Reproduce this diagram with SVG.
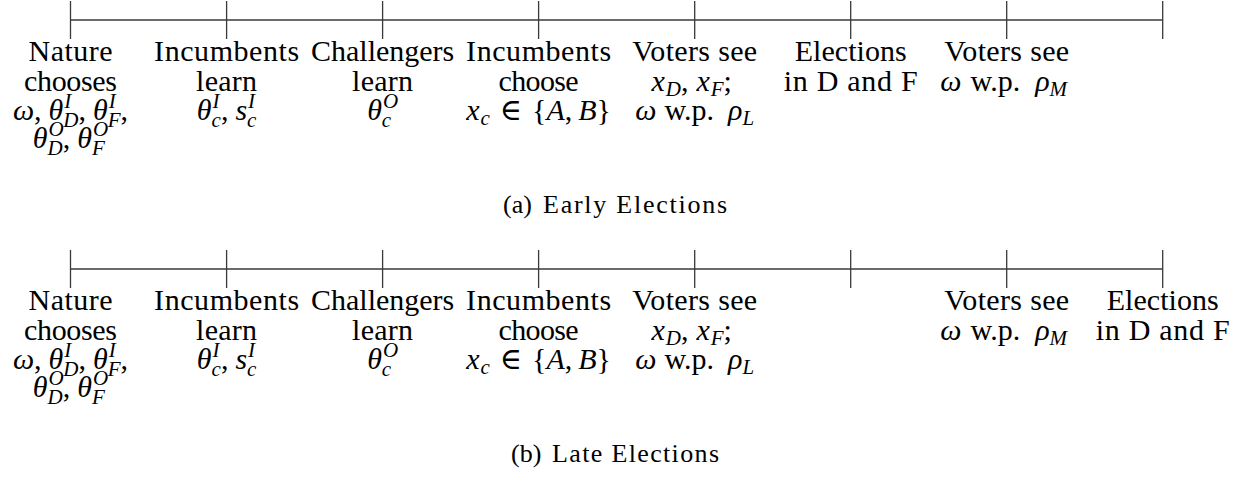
<svg xmlns="http://www.w3.org/2000/svg" width="1245" height="477" viewBox="0 0 1245 477">
<style>
.t{font-family:"Liberation Serif","DejaVu Serif",serif;font-size:30px;fill:#000;text-anchor:middle}
.m{font-style:italic}
.u{font-style:normal}
.s{font-size:21px}
.cap{font-size:26px;text-anchor:start}
.ax{stroke:#3a3a3a;stroke-width:1.3;fill:none}
</style>
<rect width="1245" height="477" fill="#fff"/>
<g id="connectors">
  <g id="timeline-a" class="ax">
    <line x1="70.5" y1="20" x2="1162.7" y2="20"/>
    <path d="M70.5 1V39M226.6 1V39M382.6 1V39M538.6 1V39M694.7 1V39M850.7 1V39M1006.7 1V39M1162.7 1V39"/>
  </g>
  <g id="timeline-b" class="ax">
    <line x1="70.5" y1="269" x2="1162.7" y2="269"/>
    <path d="M70.5 250V288M226.6 250V288M382.6 250V288M538.6 250V288M694.7 250V288M850.7 250V288M1006.7 250V288M1162.7 250V288"/>
  </g>
</g>

<!-- Panel (a) -->
<g id="a-nature" transform="translate(70.5,0)">
  <text class="t" y="61" textLength="84">Nature</text>
  <text class="t" y="91" textLength="93">chooses</text>
  <text class="t m" y="120">ω<tspan class="u">,</tspan><tspan dx="7">θ</tspan><tspan class="s" dx="1" dy="-12">I</tspan><tspan class="s" dx="-8" dy="19">D</tspan><tspan class="u" dy="-7">,</tspan><tspan dx="7">θ</tspan><tspan class="s" dx="1" dy="-12">I</tspan><tspan class="s" dx="-8" dy="19">F</tspan><tspan class="u" dy="-7">,</tspan></text>
  <text class="t m" y="148">θ<tspan class="s" dx="1" dy="-12">O</tspan><tspan class="s" dx="-16.2" dy="19">D</tspan><tspan class="u" dy="-7">,</tspan><tspan dx="7">θ</tspan><tspan class="s" dx="1" dy="-12">O</tspan><tspan class="s" dx="-16.2" dy="19">F</tspan></text>
</g>
<g id="a-inc-learn" transform="translate(226.6,0)">
  <text class="t" y="61" textLength="145">Incumbents</text>
  <text class="t" y="91" textLength="61">learn</text>
  <text class="t m" y="120">θ<tspan class="s" dx="1" dy="-12">I</tspan><tspan class="s" dx="-8" dy="19">c</tspan><tspan class="u" dy="-7">,</tspan><tspan dx="7">s</tspan><tspan class="s" dx="1" dy="-12">I</tspan><tspan class="s" dx="-8" dy="19">c</tspan></text>
</g>
<g id="a-chal-learn" transform="translate(382.6,0)">
  <text class="t" y="61" textLength="143">Challengers</text>
  <text class="t" y="91" textLength="61">learn</text>
  <text class="t m" y="120">θ<tspan class="s" dx="1" dy="-12">O</tspan><tspan class="s" dx="-16.2" dy="19">c</tspan></text>
</g>
<g id="a-inc-choose" transform="translate(538.6,0)">
  <text class="t" y="61" textLength="145">Incumbents</text>
  <text class="t" y="91" textLength="80">choose</text>
  <text class="t m" y="120">x<tspan class="s" dx="1" dy="5">c</tspan><tspan class="u" dx="10" dy="-5">∈</tspan><tspan class="u" dx="10">{</tspan>A<tspan class="u">,</tspan><tspan dx="6">B</tspan><tspan class="u">}</tspan></text>
</g>
<g id="a-voters-l" transform="translate(694.7,0)">
  <text class="t" y="61" textLength="125">Voters see</text>
  <text class="t m" x="-3" y="91">x<tspan class="s" dx="1" dy="5">D</tspan><tspan class="u" dy="-5">,</tspan><tspan dx="8">x</tspan><tspan class="s" dx="1" dy="5">F</tspan><tspan class="u" dy="-5">;</tspan></text>
  <text class="t m" y="120">ω<tspan class="u" dx="8">w.p.</tspan><tspan dx="14">ρ</tspan><tspan class="s" dy="5">L</tspan></text>
</g>
<g id="a-elections" transform="translate(850.7,0)">
  <text class="t" y="61" textLength="112">Elections</text>
  <text class="t" y="91" textLength="134">in D and F</text>
</g>
<g id="a-voters-m" transform="translate(1006.7,0)">
  <text class="t" y="61" textLength="125">Voters see</text>
  <text class="t m" x="-3" y="91">ω<tspan class="u" dx="9">w.p.</tspan><tspan dx="15">ρ</tspan><tspan class="s" dy="5">M</tspan></text>
</g>
<g id="caption-a">
  <text class="t cap" x="503" y="213">(a)<tspan x="543" textLength="184">Early Elections</tspan></text>
</g>

<!-- Panel (b) -->
<g id="b-nature" transform="translate(70.5,249)">
  <text class="t" y="61" textLength="84">Nature</text>
  <text class="t" y="91" textLength="93">chooses</text>
  <text class="t m" y="120">ω<tspan class="u">,</tspan><tspan dx="7">θ</tspan><tspan class="s" dx="1" dy="-12">I</tspan><tspan class="s" dx="-8" dy="19">D</tspan><tspan class="u" dy="-7">,</tspan><tspan dx="7">θ</tspan><tspan class="s" dx="1" dy="-12">I</tspan><tspan class="s" dx="-8" dy="19">F</tspan><tspan class="u" dy="-7">,</tspan></text>
  <text class="t m" y="148">θ<tspan class="s" dx="1" dy="-12">O</tspan><tspan class="s" dx="-16.2" dy="19">D</tspan><tspan class="u" dy="-7">,</tspan><tspan dx="7">θ</tspan><tspan class="s" dx="1" dy="-12">O</tspan><tspan class="s" dx="-16.2" dy="19">F</tspan></text>
</g>
<g id="b-inc-learn" transform="translate(226.6,249)">
  <text class="t" y="61" textLength="145">Incumbents</text>
  <text class="t" y="91" textLength="61">learn</text>
  <text class="t m" y="120">θ<tspan class="s" dx="1" dy="-12">I</tspan><tspan class="s" dx="-8" dy="19">c</tspan><tspan class="u" dy="-7">,</tspan><tspan dx="7">s</tspan><tspan class="s" dx="1" dy="-12">I</tspan><tspan class="s" dx="-8" dy="19">c</tspan></text>
</g>
<g id="b-chal-learn" transform="translate(382.6,249)">
  <text class="t" y="61" textLength="143">Challengers</text>
  <text class="t" y="91" textLength="61">learn</text>
  <text class="t m" y="120">θ<tspan class="s" dx="1" dy="-12">O</tspan><tspan class="s" dx="-16.2" dy="19">c</tspan></text>
</g>
<g id="b-inc-choose" transform="translate(538.6,249)">
  <text class="t" y="61" textLength="145">Incumbents</text>
  <text class="t" y="91" textLength="80">choose</text>
  <text class="t m" y="120">x<tspan class="s" dx="1" dy="5">c</tspan><tspan class="u" dx="10" dy="-5">∈</tspan><tspan class="u" dx="10">{</tspan>A<tspan class="u">,</tspan><tspan dx="6">B</tspan><tspan class="u">}</tspan></text>
</g>
<g id="b-voters-l" transform="translate(694.7,249)">
  <text class="t" y="61" textLength="125">Voters see</text>
  <text class="t m" x="-3" y="91">x<tspan class="s" dx="1" dy="5">D</tspan><tspan class="u" dy="-5">,</tspan><tspan dx="8">x</tspan><tspan class="s" dx="1" dy="5">F</tspan><tspan class="u" dy="-5">;</tspan></text>
  <text class="t m" y="120">ω<tspan class="u" dx="8">w.p.</tspan><tspan dx="14">ρ</tspan><tspan class="s" dy="5">L</tspan></text>
</g>
<g id="b-voters-m" transform="translate(1006.7,249)">
  <text class="t" y="61" textLength="125">Voters see</text>
  <text class="t m" x="-3" y="91">ω<tspan class="u" dx="9">w.p.</tspan><tspan dx="15">ρ</tspan><tspan class="s" dy="5">M</tspan></text>
</g>
<g id="b-elections" transform="translate(1162.7,249)">
  <text class="t" y="61" textLength="112">Elections</text>
  <text class="t" y="91" textLength="134">in D and F</text>
</g>
<g id="caption-b">
  <text class="t cap" x="511" y="462">(b)<tspan x="552" textLength="167">Late Elections</tspan></text>
</g>
</svg>
